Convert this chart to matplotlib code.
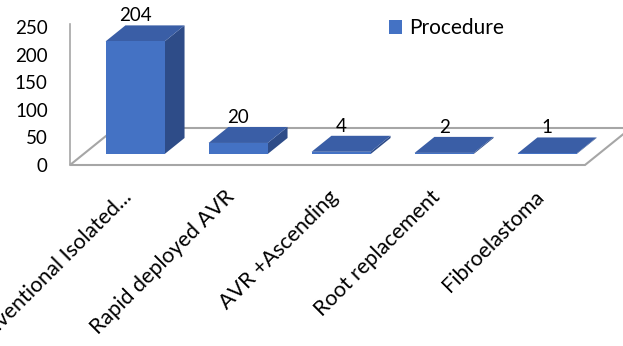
import matplotlib
matplotlib.use("Agg")
import matplotlib.pyplot as plt
from matplotlib.patches import Polygon, Patch
from matplotlib.transforms import IdentityTransform

plt.rcParams['font.family'] = ['Lato', 'DejaVu Sans']

categories = ["Conventional Isolated...", "Rapid deployed AVR", "AVR +Ascending",
              "Root replacement", "Fibroelastoma"]
counts = [204, 20, 4, 2, 1]
series_name = "Procedure"
yticks = [0, 50, 100, 150, 200, 250]

front_col = '#4472C4'
top_col = '#3A5EA6'
side_col = '#2E4C88'
floor_col = '#A6A6A6'

W, H = 623, 346
fig = plt.figure(figsize=(W / 100, H / 100), dpi=100)
ax = fig.add_axes([70 / W, (H - 165) / H, 515 / W, 138 / H])
ax.set_xlim(-0.5, len(categories) - 0.5)
ax.set_ylim(0, 250)
for s in ['top', 'right', 'bottom']:
    ax.spines[s].set_visible(False)
ax.spines['left'].set_color(floor_col)
ax.spines['left'].set_linewidth(1.2)
ax.spines['left'].set_bounds(0, 255)
ax.set_xticks([])
ax.set_yticks(yticks)
ax.tick_params(axis='y', length=0, pad=16, labelsize=13.5)

# depth direction of the pseudo-3d floor (pixels per pixel of depth)
slope = 1.24
floor_depth = 37
bar_front, bar_back = 11, 27
half_w = 0.287


def proj(x, y, t=0):
    px, py = ax.transData.transform((x, y))
    return (px + slope * t, py + t)


def face(pts, color, **kw):
    p = Polygon(pts, closed=True, facecolor=color, transform=IdentityTransform(),
                clip_on=False, **kw)
    fig.add_artist(p)


# floor
n = len(categories)
floor = [proj(-0.5, 0), proj(n - 0.5, 0), proj(n - 0.5, 0, floor_depth),
         proj(-0.5, 0, floor_depth)]
face(floor, 'white', edgecolor=floor_col, linewidth=1.5, zorder=1)

# bars
for i, v in enumerate(counts):
    x0, x1 = i - half_w, i + half_w
    front = [proj(x0, 0, bar_front), proj(x1, 0, bar_front),
             proj(x1, v, bar_front), proj(x0, v, bar_front)]
    side = [proj(x1, 0, bar_front), proj(x1, 0, bar_back),
            proj(x1, v, bar_back), proj(x1, v, bar_front)]
    top = [proj(x0, v, bar_front), proj(x1, v, bar_front),
           proj(x1, v, bar_back), proj(x0, v, bar_back)]
    face(side, side_col, edgecolor='none', zorder=2)
    face(top, top_col, edgecolor='none', zorder=2)
    face(front, front_col, edgecolor='none', zorder=3)
    lx, _ = proj(i, v, bar_front)
    _, ly = proj(i, v, bar_back)
    fig.text(lx, ly + 1, str(v), transform=IdentityTransform(), ha='center',
             va='bottom', fontsize=13.5, zorder=4)

# category labels along the front edge
for i, lab in enumerate(categories):
    px, py = proj(i, 0)
    fig.text(px, py - 22, lab, transform=IdentityTransform(), rotation=45,
             rotation_mode='anchor', ha='right', va='top', fontsize=15.5)

fig.legend(handles=[Patch(facecolor=front_col, label=series_name)],
           loc='center left', bbox_to_anchor=(370 / W, (H - 28) / H),
           frameon=False, fontsize=15, handlelength=0.65, handleheight=0.65,
           handletextpad=0.35)

fig.savefig("out.png", dpi=100)
